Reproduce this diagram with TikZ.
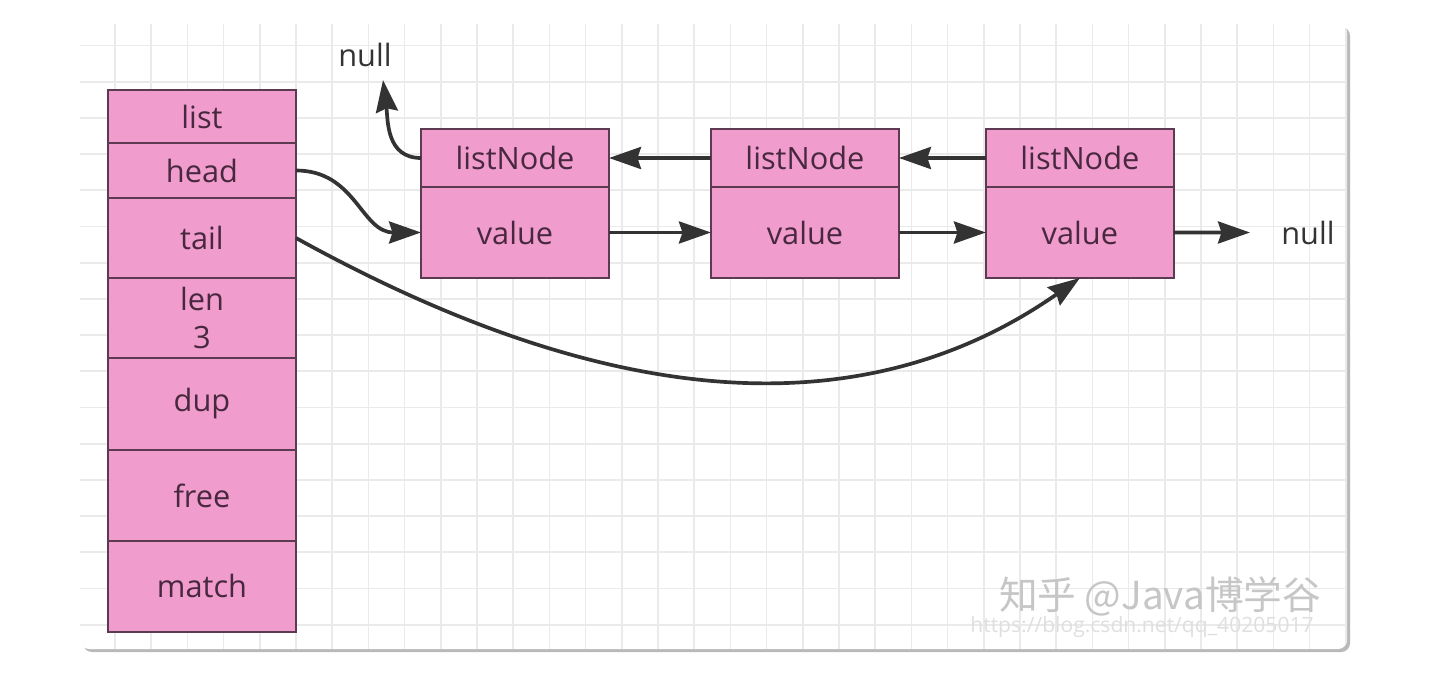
\documentclass[tikz,border=0pt]{standalone}
\usepackage{fontspec}
\setmainfont{Open Sans}
\newfontfamily\cjkfont{Noto Sans CJK SC}
\usetikzlibrary{positioning,arrows.meta}
\definecolor{cellpink}{RGB}{240,156,204}
\definecolor{cellline}{RGB}{92,58,82}
\definecolor{celltext}{RGB}{72,40,62}
\definecolor{linkgray}{RGB}{51,51,51}
\definecolor{gridline}{RGB}{234,234,234}
\tikzset{
  cell/.style={draw=cellline,line width=1.1pt,fill=cellpink,text=celltext,
            minimum width=3.76cm,inner sep=0pt,outer sep=0pt,align=center,
            font=\fontsize{17.5}{21.5}\selectfont},
  ptr/.style={-{Stealth[length=0.64cm,width=0.44cm,inset=0.07cm]},line width=2.1pt,linkgray},
  nulltext/.style={text=linkgray,font=\fontsize{17.5}{21}\selectfont},
}

\begin{document}
\begin{tikzpicture}[x=0.02cm,y=-0.02cm]
  \useasboundingbox (0,0) rectangle (1450,686);
  % canvas
  \fill[gray!55,rounded corners=5] (83,27) rectangle (1350,652);
  \fill[white,rounded corners=5] (80,24) rectangle (1347,649);
  \begin{scope}
    \clip[rounded corners=5] (80,24) rectangle (1347,649);
    \foreach \k in {0,...,35}
      \draw[gridline,line width=1pt] ({78.8+36.2*\k},24) -- ++(0,625);
    \foreach \k in {0,...,17}
      \draw[gridline,line width=1pt] (80,{9.3+36.2*\k}) -- ++(1267,0);
  \end{scope}

  % list struct
  \node[cell,minimum height=1.06cm] (lname) at (202,116.5) {list};
  \node[cell,minimum height=1.10cm,below=0pt of lname] (lhead) {head};
  \node[cell,minimum height=1.60cm,below=0pt of lhead] (ltail) {tail};
  \node[cell,minimum height=1.60cm,below=0pt of ltail] (llen) {len\\3};
  \node[cell,minimum height=1.84cm,below=0pt of llen] (ldup) {dup};
  \node[cell,minimum height=1.82cm,below=0pt of ldup] (lfree) {free};
  \node[cell,minimum height=1.82cm,below=0pt of lfree] (lmatch) {match};

  % list nodes
  \node[cell,minimum height=1.16cm] (n1) at (515,158) {listNode};
  \node[cell,minimum height=1.82cm,below=0pt of n1] (v1) {value};
  \node[cell,minimum height=1.16cm,right=2.04cm of n1] (n2) {listNode};
  \node[cell,minimum height=1.82cm,below=0pt of n2] (v2) {value};
  \node[cell,minimum height=1.16cm,right=1.74cm of n2] (n3) {listNode};
  \node[cell,minimum height=1.82cm,below=0pt of n3] (v3) {value};

  \node[nulltext] (nulltop) at (365,55) {null};
  \coordinate (nullup) at (383,80);
  \node[nulltext] (nullright) at (1308,233) {null};
  \coordinate (nullend) at (1250,232.5);

  % pointers
  \draw[ptr] (n2.west) -- (n1.east);
  \draw[ptr] (n3.west) -- (n2.east);
  \draw[ptr] (v1.east) -- (v2.west);
  \draw[ptr] (v2.east) -- (v3.west);
  \draw[ptr] (v3.east) -- (nullend);
  \draw[ptr] (n1.west) .. controls +(-35,0) and +(5,40) .. (nullup);
  \draw[ptr] (lhead.east) .. controls +(60,0) and +(-60,0) .. (v1.west);
  \draw[ptr] (ltail.east) .. controls +(262,145) and +(-246,172) .. (v3.south);

  % watermark
  \node[text=gray!45,font=\cjkfont\fontsize{22}{26}\selectfont] (mark) at (1160,596) {知乎 @Java博学谷};
  \node[text=gray!25,font=\fontsize{12}{14}\selectfont] (markurl) at (1142,627) {https://blog.csdn.net/qq\_40205017};
\end{tikzpicture}
\end{document}
